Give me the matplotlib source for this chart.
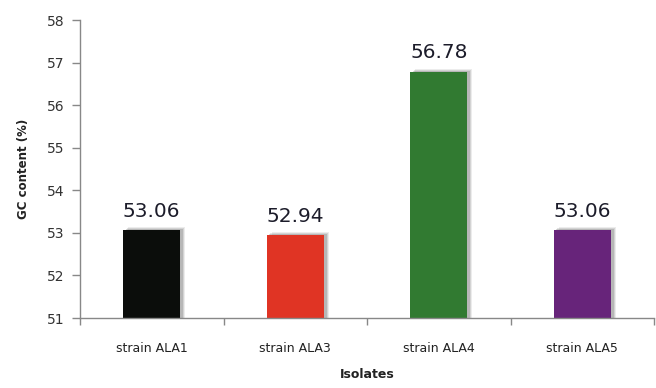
import matplotlib
matplotlib.use("Agg")
import matplotlib.pyplot as plt
import numpy as np

strains = ["strain ALA1", "strain ALA3", "strain ALA4", "strain ALA5"]
gc_content = [53.06, 52.94, 56.78, 53.06]
bar_colors = ["#0b0d0b", "#e03424", "#317a31", "#67247a"]
yticks = [51, 52, 53, 54, 55, 56, 57, 58]

fig = plt.figure(figsize=(6.56, 3.88), dpi=100)
ax = fig.add_axes([80 / 656, 70 / 388, 574 / 656, 298 / 388])

x = np.arange(len(strains))
width = 0.40
base = yticks[0]

# soft drop shadow: stacked translucent gray bars nudged right/up
for dx, dy, a in [(0.035, 0.07, 0.12), (0.027, 0.05, 0.18), (0.018, 0.03, 0.25)]:
    ax.bar(x + dx, np.array(gc_content) - base + dy, width, bottom=base,
           color="#666666", alpha=a, linewidth=0, zorder=1)
ax.bar(x, np.array(gc_content) - base, width, bottom=base, color=bar_colors,
       linewidth=0, zorder=2)

for xi, v in zip(x, gc_content):
    ax.annotate(f"{v:.2f}", (xi, v), xytext=(0, 7), textcoords="offset points",
                ha="center", va="bottom", fontsize=14.5, color="#1c1c2a",
                family="DejaVu Sans")

ax.set_xlim(-0.5, len(strains) - 0.5)
ax.set_ylim(51, 58)
ax.set_yticks(yticks)
ax.set_yticklabels([str(t) for t in yticks], fontsize=10, color="#333333")
ax.set_xticks(x)
ax.set_xticklabels(strains, fontsize=9, color="#222222")
ax.set_xticks(np.arange(len(strains) + 1) - 0.5, minor=True)
ax.tick_params(axis="x", which="major", length=0, pad=17)
ax.tick_params(axis="x", which="minor", length=5, color="#888888", width=1)
ax.tick_params(axis="y", length=6, color="#888888", width=1, pad=5)

for side in ["top", "right"]:
    ax.spines[side].set_visible(False)
for side in ["left", "bottom"]:
    ax.spines[side].set_color("#888888")
    ax.spines[side].set_linewidth(1)

ax.set_ylabel("GC content (%)", fontsize=8.5, fontweight="bold", color="#222222", labelpad=12)
ax.set_xlabel("Isolates", fontsize=9, fontweight="bold", color="#222222", labelpad=10)

fig.savefig("out.png", dpi=100)
